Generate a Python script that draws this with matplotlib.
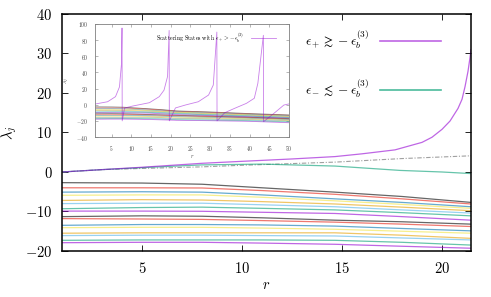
import matplotlib
matplotlib.use("Agg")
import matplotlib.pyplot as plt
from matplotlib.lines import Line2D

plt.rcParams["mathtext.fontset"] = "cm"
plt.rcParams["font.family"] = "serif"

# --- gnuplot default palette ---
c_purple = "#9400d3"
c_green = "#009e73"
c_lblue = "#56b4e9"
c_orange = "#e69f00"
c_yellow = "#f0e442"
c_blue = "#0072b2"
c_red = "#e51e10"
c_black = "#000000"
bound_colors = [c_black, c_red, c_blue, c_yellow, c_orange, c_lblue, c_green, c_purple] * 2

# --- main panel data ---
r_plus = [1, 3, 5, 8, 10, 12.5, 14.65, 16, 17.65, 19, 19.5, 20, 20.4, 20.8, 21.0,
          21.15, 21.3, 21.4, 21.45]
lam_plus = [0, 0.6, 1.2, 2.2, 2.7, 3.3, 3.9, 4.6, 5.6, 7.5, 8.8, 10.8, 12.9, 16.1, 18.4,
            21.6, 25.5, 29.0, 31.0]

r_minus = [1, 3, 5, 8, 11, 14.65, 17.9, 20, 21.45]
lam_minus = [0, 0.6, 1.1, 1.8, 2.0, 1.5, 0.4, 0.0, -0.4]

r_ref = [1, 3, 5, 8, 10, 14.65, 18, 21.45]
lam_ref = [0, 0.6, 0.9, 1.3, 1.7, 2.5, 3.4, 4.1]

# bound states, sampled at r_bound (main panel shows r <= 21.45, inset the rest)
r_bound = [1, 5, 8, 11, 14.65, 18, 21.45, 30, 40, 50]
bound_1 = [-2.7, -2.8, -3.1, -4.0, -5.1, -6.2, -7.7, -9.0, -11.0, -12.7]
bound_2 = [-4.0, -4.0, -4.05, -4.7, -5.65, -6.8, -8.1, -9.5, -11.5, -13.2]
bound_3 = [-5.1, -5.0, -5.1, -5.8, -6.8, -7.7, -8.8, -10.3, -12.1, -13.8]
bound_4 = [-5.9, -5.8, -5.8, -6.4, -7.3, -8.2, -9.2, -10.8, -12.6, -14.3]
bound_5 = [-7.2, -7.0, -7.1, -7.5, -8.1, -8.9, -9.8, -11.4, -13.1, -14.8]
bound_6 = [-8.0, -7.9, -7.9, -8.3, -8.8, -9.6, -10.4, -12.0, -13.6, -15.4]
bound_7 = [-9.3, -9.0, -8.9, -9.2, -9.6, -10.3, -11.1, -12.6, -14.2, -16.0]
bound_8 = [-9.9, -9.9, -9.95, -10.2, -10.5, -11.3, -12.2, -13.4, -14.9, -16.6]
bound_9 = [-11.3, -11.1, -11.2, -11.6, -12.2, -12.6, -13.2, -14.3, -15.6, -17.3]
bound_10 = [-11.8, -11.9, -12.0, -12.3, -12.7, -13.2, -13.8, -14.8, -16.1, -17.8]
bound_11 = [-13.5, -13.3, -13.3, -13.4, -13.7, -14.3, -14.9, -15.8, -16.9, -18.5]
bound_12 = [-14.1, -14.0, -14.0, -14.2, -14.5, -15.0, -15.5, -16.3, -17.4, -19.0]
bound_13 = [-15.5, -15.4, -15.4, -15.4, -15.4, -16.0, -16.8, -17.4, -18.3, -19.8]
bound_14 = [-16.1, -16.0, -16.0, -16.1, -16.2, -16.7, -17.2, -17.8, -18.8, -20.3]
bound_15 = [-17.3, -17.2, -17.2, -17.2, -17.3, -17.8, -18.5, -19.0, -19.8, -21.3]
bound_16 = [-17.9, -17.8, -17.8, -18.0, -18.3, -18.8, -19.3, -19.8, -20.6, -22.3]
bounds = [bound_1, bound_2, bound_3, bound_4, bound_5, bound_6, bound_7, bound_8,
          bound_9, bound_10, bound_11, bound_12, bound_13, bound_14, bound_15, bound_16]

# --- inset: scattering state (tan-like branches with poles) ---
r_scat = [1, 4, 6, 7, 7.5, 7.65, 7.7,
          8.3, 10.4, 14.6, 17.1, 18.3, 19.2, 19.6, 19.65,
          21.2, 23.7, 27, 29.6, 30.8, 31.7, 31.75,
          33.7, 36.2, 39.2, 41.2, 42.1, 43.5, 43.55,
          46.2, 48.7, 50]
lam_scat = [1, 3.7, 10, 22, 50, 95, -20,
            -4, -1.6, 2.5, 10, 18, 35, 92, -20,
            -4, -0.4, 3.7, 12, 24.4, 90, -20,
            -9.9, -4.5, 1.7, 8, 26.5, 86, -21,
            -10.6, -0.4, 1]

x_ticks = [5, 10, 15, 20]
y_ticks = [-20, -10, 0, 10, 20, 30, 40]
in_x_ticks = [5, 10, 15, 20, 25, 30, 35, 40, 45, 50]
in_y_ticks = [-40, -20, 0, 20, 40, 60, 80, 100]


def mlabel(v):
    return r"$%g$" % v


fig = plt.figure(figsize=(4.91, 2.97), dpi=100)

# --- main axes ---
ax = fig.add_axes([0.1263, 0.1549, 0.833, 0.798])
for vals, col in zip(bounds, bound_colors):
    ax.plot(r_bound, vals, color=col, lw=0.9, alpha=0.6)
ax.plot(r_ref, lam_ref, color="#a0a0a0", lw=0.8, dashes=[4, 1.5, 1, 1.5])
ax.plot(r_minus, lam_minus, color=c_green, lw=0.9, alpha=0.6)
ax.plot(r_plus, lam_plus, color=c_purple, lw=0.9, alpha=0.6)

ax.set_xlim(1, 21.45)
ax.set_ylim(-20, 40)
ax.set_xticks(x_ticks)
ax.set_xticklabels([mlabel(v) for v in x_ticks])
ax.set_yticks(y_ticks)
ax.set_yticklabels([mlabel(v) for v in y_ticks])
ax.tick_params(direction="in", top=True, right=True, length=4, width=0.6,
               labelsize=10.5, pad=7)
for s in ax.spines.values():
    s.set_linewidth(1.1)
ax.set_xlabel(r"$r$", fontsize=10.5, labelpad=2)
ax.set_ylabel(r"$\lambda_j$", fontsize=10.5)
ax.yaxis.set_label_coords(-0.105, 0.5)

handles = [Line2D([], [], color=c_purple, lw=1.2, alpha=0.6),
           Line2D([], [], color=c_green, lw=1.2, alpha=0.7)]
labels = [r"$\epsilon_+ \gtrsim -\epsilon_b^{(3)}$",
          r"$\epsilon_- \lesssim -\epsilon_b^{(3)}$"]
ax.legend(handles, labels, loc="upper right", bbox_to_anchor=(0.955, 0.99),
          markerfirst=False, frameon=False, handlelength=4.6, handletextpad=0.8,
          labelspacing=2.0, fontsize=9.5)

# --- inset ---
axin = fig.add_axes([0.1935, 0.5387, 0.3951, 0.3805])
for vals, col in zip(bounds, bound_colors):
    axin.plot(r_bound, vals, color=col, lw=0.6, alpha=0.5)
axin.plot(r_scat, lam_scat, color=c_purple, lw=0.6, alpha=0.5,
          label=r"$\mathrm{Scattering\ States\ with\ }\epsilon_+ > -\epsilon_b^{(3)}$")
axin.set_xlim(0.8, 50)
axin.set_ylim(-40, 100)
axin.set_xticks(in_x_ticks)
axin.set_xticklabels([mlabel(v) for v in in_x_ticks])
axin.set_yticks(in_y_ticks)
axin.set_yticklabels([mlabel(v) for v in in_y_ticks])
axin.tick_params(direction="in", top=True, right=True, length=2, width=0.4,
                 labelsize=4, pad=5, color="#808080", labelcolor="#404040")
for s in axin.spines.values():
    s.set_linewidth(0.6)
    s.set_color("#808080")
axin.set_xlabel(r"$r$", fontsize=4, labelpad=0, color="#404040")
axin.set_ylabel(r"$\lambda_j$", fontsize=4, labelpad=3, color="#404040")
axin.legend(loc="upper right", bbox_to_anchor=(0.945, 0.96), frameon=False,
            markerfirst=False, fontsize=4.3, handlelength=4.2, handletextpad=1.2,
            borderaxespad=0)

fig.savefig("out.png", dpi=100)
